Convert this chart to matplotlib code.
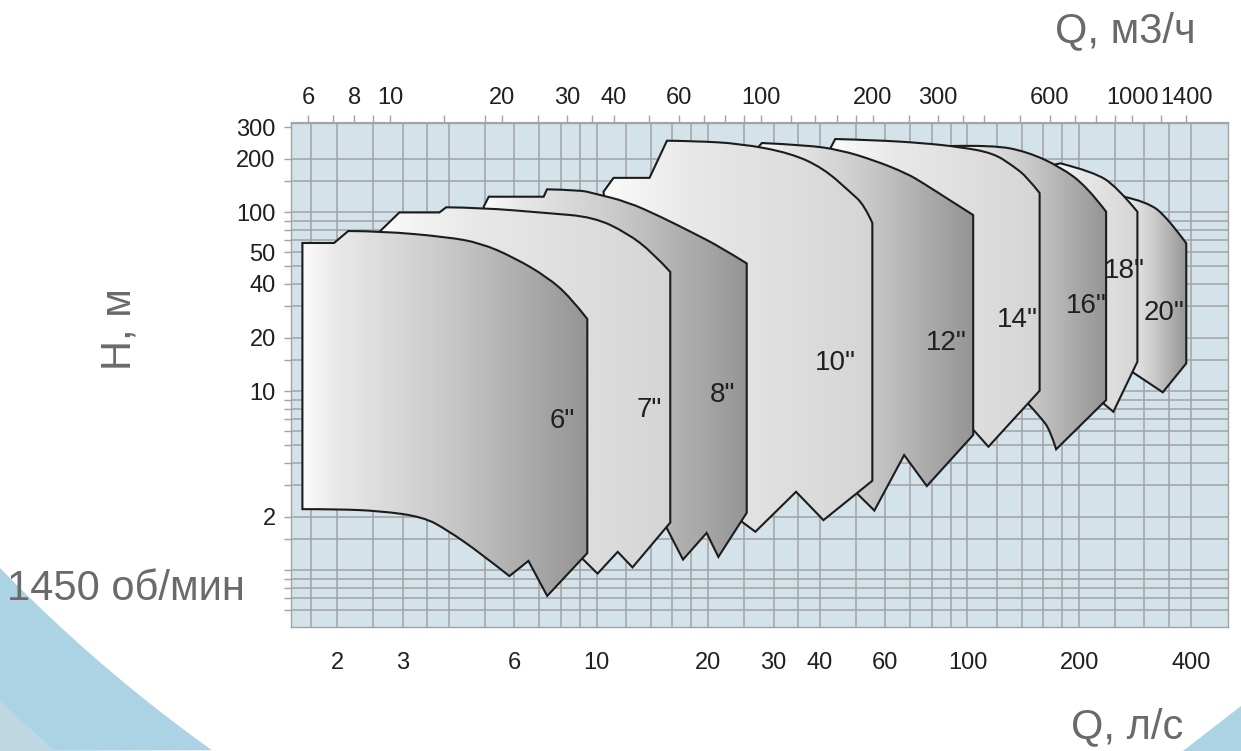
import numpy as np
import matplotlib
matplotlib.use('Agg')
import matplotlib.pyplot as plt
from matplotlib.patches import Polygon, PathPatch
from matplotlib.path import Path
from matplotlib.colors import LinearSegmentedColormap
from matplotlib.ticker import FixedLocator, NullFormatter, NullLocator

plt.rcParams['font.family'] = ['Liberation Sans', 'DejaVu Sans']

# pump sizes, label anchors (Q л/с, H м at text baseline)
sizes = ['6"', '7"', '8"', '10"', '12"', '14"', '16"', '18"', '20"']
label_q = [8.08, 13.9, 21.9, 44.0, 87.5, 136.6, 209.0, 264.5, 339.0]
label_h = [6.25, 7.22, 8.76, 13.2, 17.0, 23.0, 27.3, 42.8, 25.0]

# working fields, Q in л/с and H in м (outline read clockwise)
q6 = [1.61, 1.96, 2.14, 2.61, 3.96, 4.86, 5.96, 7.36, 8.49, 9.44, 9.44, 7.36, 6.55, 5.82, 4.86, 3.96, 3.41, 2.61, 1.98, 1.61]
h6 = [67.5, 67.5, 78.7, 78.7, 72.9, 67.5, 56.3, 43.6, 33.7, 25.4, 1.25, 0.72, 1.13, 0.93, 1.25, 1.68, 1.99, 2.15, 2.2, 2.2]

q7 = [2.61, 2.94, 3.77, 3.93, 4.86, 7.35, 9.81, 12.1, 14.2, 15.8, 15.8, 12.5, 11.4, 10.06, 9.13, 7.05, 2.69]
h7 = [78.7, 100, 100, 106.8, 106.4, 99.2, 94.3, 76.7, 59.3, 46.5, 1.85, 1.04, 1.27, 0.96, 1.17, 1.48, 32.4]

q8 = [4.96, 5.12, 7.2, 7.35, 9.04, 9.81, 12.1, 14.9, 18.3, 21.5, 25.4, 25.4, 21.3, 19.8, 17.1, 15.4, 13.95, 5.17]
h8 = [107.6, 122.4, 122.4, 134.6, 133.4, 127.8, 114.8, 94.6, 76.4, 64.3, 51.9, 2.1, 1.19, 1.62, 1.15, 1.75, 1.91, 54.2]

q10 = [10.44, 11.11, 13.89, 15.48, 18.2, 24.4, 33.3, 40.8, 48.3, 52.7, 55.4, 55.4, 40.9, 34.5, 26.8, 24.65, 22.9, 10.9]
h10 = [130.5, 156, 156, 251.6, 250.6, 242.7, 214.7, 177, 130, 110, 87.3, 3.17, 1.91, 2.75, 1.645, 1.87, 2.47, 61.7]

q12 = [27.3, 27.9, 36.9, 45.4, 55.8, 68.6, 76.1, 88.0, 103.6, 103.6, 77.7, 67.5, 56.1, 50.3, 45.4, 28.5]
h12 = [231.9, 244.2, 237.9, 223.2, 196.2, 165.3, 145.4, 119.9, 96.7, 5.71, 2.96, 4.41, 2.16, 2.70, 3.64, 117.3]

q14 = [42.8, 44.0, 55.7, 75.9, 95.6, 117.3, 132.8, 144.8, 156.5, 156.5, 113.9, 103.8, 95.6, 45.4]
h14 = [230.5, 257.1, 253.8, 244.2, 231.9, 214.7, 181.6, 157.6, 128.3, 10.09, 4.91, 6.09, 6.92, 117.3]

q16 = [89.8, 117.3, 144.8, 177.8, 210.2, 236.5, 236.5, 173.4, 167.1, 157.0, 146.0, 138.7, 95.6]
h16 = [234.9, 237.9, 218.3, 180.0, 139.2, 100.9, 8.95, 4.75, 6.09, 7.22, 8.50, 11.58, 117.3]

q18 = [172.3, 177.8, 218.6, 252.7, 287.2, 287.2, 247.4, 233.6, 214.1, 177.8]
h18 = [185.2, 188.1, 168.8, 139.2, 100.9, 14.66, 7.70, 8.50, 11.58, 117.3]

q20 = [262.8, 304.5, 344.6, 389.0, 389.0, 336.2, 280.2, 267.8, 264.4]
h20 = [122.7, 114.8, 94.6, 67.2, 14.35, 9.89, 12.72, 14.04, 103.1]

# outline vertices that lie on a rounded edge (the rest are corners)
smooth_idx = [
    [3, 4, 5, 6, 7, 8, 14, 15, 16, 17, 18],
    [4, 5, 6, 7, 8],
    [4, 5, 6, 7, 8, 9],
    [4, 5, 6, 7, 8, 9],
    [2, 3, 4, 5, 6, 7],
    [2, 3, 4, 5, 6, 7],
    [1, 2, 3, 4, 8, 9],
    [2, 3],
    [1, 2],
]

# axes ticks and grid
q_ticks = [2, 3, 6, 10, 20, 30, 40, 60, 100, 200, 400]
m3h_ticks = [6, 8, 10, 20, 30, 40, 60, 100, 200, 300, 600, 1000, 1400]
m3h_minor = [7, 9, 14, 18, 25, 35, 50, 70, 80, 90, 120, 140, 160, 180, 250, 350,
             400, 500, 700, 800, 900, 1200]
h_ticks = [2, 10, 20, 40, 50, 100, 200, 300]
q_grid = [1.7, 2, 2.5, 3, 3.5, 4, 5, 6, 7, 8, 9, 10, 12, 14, 16, 18, 20, 25, 30, 35,
          40, 50, 60, 70, 80, 90, 100, 120, 140, 160, 180, 200, 250, 300, 350, 400]
h_grid = [0.6, 0.7, 0.8, 0.9, 1, 1.5, 2, 3, 4, 5, 6, 7, 8, 9, 10, 15, 20, 30, 40, 50,
          60, 70, 80, 90, 100, 150, 200]

W, H = 1241, 751
GRAY = '#a3a3a3'
TXT = '#231f20'
TITLE = '#6a6a6a'


def field_path(q, h, smooth):
    """Closed outline; runs of smooth vertices become quadratic curves (log space)."""
    p = np.log10(np.column_stack([q, h]))
    n = len(p)
    verts, codes = [p[0]], [Path.MOVETO]
    i = 1
    while i <= n:
        if (i % n) in smooth:
            run = []
            while (i % n) in smooth:
                run.append(p[i % n])
                i += 1
            end = p[i % n]
            for k, c in enumerate(run):
                on = (c + run[k + 1]) / 2 if k + 1 < len(run) else end
                verts += [c, on]
                codes += [Path.CURVE3, Path.CURVE3]
        else:
            verts.append(p[i % n])
            codes.append(Path.LINETO)
        i += 1
    verts.append(p[0])
    codes.append(Path.CLOSEPOLY)
    return Path(10 ** np.array(verts), codes)


def main():
    fig = plt.figure(figsize=(W / 100, H / 100), dpi=100)

    # blue decorations in the corners (pixel coordinates)
    bg = fig.add_axes([0, 0, 1, 1], zorder=-5)
    bg.set_xlim(0, W)
    bg.set_ylim(H, 0)
    bg.axis('off')
    ang = np.radians(np.linspace(125.5, 135.9, 60))
    arc = np.column_stack([1111 + 1548 * np.cos(ang), -510 + 1548 * np.sin(ang)])
    bg.add_patch(Polygon(np.vstack([arc, [[0, H]]]), closed=True, fc='#abd3e3', ec='none'))
    bg.add_patch(Polygon([[0, 701], [55, H], [0, H]], closed=True, fc='#bdd8e3', ec='none'))
    bg.add_patch(Polygon([[1183, H], [W, 706], [W, H]], closed=True, fc='#abd3e3', ec='none'))

    ax = fig.add_axes([291 / W, 1 - 627 / H, 937 / W, 504.5 / H])
    ax.set_xscale('log')
    ax.set_yscale('log')
    xlim, ylim = (1.5, 504), (0.483, 318)
    ax.set_xlim(*xlim)
    ax.set_ylim(*ylim)
    ax.set_facecolor('#d3e3e9')
    for s in ax.spines.values():
        s.set_color(GRAY)
        s.set_linewidth(1.0)

    ax.vlines(q_grid, ylim[0], ylim[1], color=GRAY, lw=1.1, zorder=1)
    ax.hlines(h_grid, xlim[0], xlim[1], color=GRAY, lw=1.1, zorder=1)

    # bottom axis, л/с
    ax.xaxis.set_ticks_position('bottom')
    ax.set_xticks(q_ticks, labels=[str(v) for v in q_ticks])
    ax.xaxis.set_minor_locator(NullLocator())
    ax.tick_params(axis='x', length=0, pad=18, labelsize=17, labelcolor=TXT)

    # left axis, м
    ax.yaxis.set_ticks_position('left')
    ax.set_yticks(h_ticks, labels=[str(v) for v in h_ticks])
    ax.yaxis.set_minor_locator(FixedLocator(h_grid))
    ax.yaxis.set_minor_formatter(NullFormatter())
    ax.tick_params(axis='y', which='both', direction='out', length=5, width=1,
                   color=GRAY, pad=6, labelsize=17, labelcolor=TXT)
    # "50" sits just above its tick, as in the original sheet
    for tick, v in zip(ax.yaxis.get_major_ticks(), h_ticks):
        if v == 50:
            tick.label1.set_verticalalignment('bottom')

    # top axis, м3/ч
    sec = ax.secondary_xaxis('top', functions=(lambda q: q * 3.6, lambda m: m / 3.6))
    sec.set_xticks(m3h_ticks, labels=[str(v) for v in m3h_ticks])
    sec.xaxis.set_minor_locator(FixedLocator(m3h_minor))
    sec.xaxis.set_minor_formatter(NullFormatter())
    sec.tick_params(which='both', direction='out', length=5, width=1, color=GRAY,
                    pad=5, labelsize=17, labelcolor=TXT)
    sec.spines['top'].set_color(GRAY)

    dark = LinearSegmentedColormap.from_list(
        'dark', [(0, '#fcfcfc'), (0.12, '#e9e9e9'), (0.5, '#cacaca'), (1, '#959595')])
    light = LinearSegmentedColormap.from_list(
        'light', [(0, '#fbfbfb'), (0.3, '#e9e9e9'), (1, '#d5d5d5')])
    grad = np.linspace(0, 1, 256).reshape(1, -1)

    fields = [(q6, h6), (q7, h7), (q8, h8), (q10, h10), (q12, h12),
              (q14, h14), (q16, h16), (q18, h18), (q20, h20)]
    to_axes = ax.transData + ax.transAxes.inverted()

    # draw the biggest pump first, the 6" ends up in front
    for i in reversed(range(len(fields))):
        q, h = fields[i]
        z = 10 + 2 * (len(fields) - i)
        outline = PathPatch(field_path(q, h, smooth_idx[i]), fill=False,
                            ec='#1c1c1c', lw=1.5, joinstyle='miter', zorder=z + 1)
        ax.add_patch(outline)
        x0 = to_axes.transform((min(q), 1))[0]
        x1 = to_axes.transform((max(q), 1))[0]
        im = ax.imshow(grad, cmap=dark if i % 2 == 0 else light, extent=(x0, x1, 0, 1),
                       transform=ax.transAxes, aspect='auto', interpolation='bilinear',
                       zorder=z)
        im.set_clip_path(outline)

    for name, lq, lh in zip(sizes, label_q, label_h):
        ax.text(lq, lh, name, ha='center', va='baseline', fontsize=20, color=TXT, zorder=40)

    ax.set_xlim(*xlim)
    ax.set_ylim(*ylim)

    fig.text(1125 / W, 1 - 42 / H, 'Q, м3/ч', ha='center', va='baseline', fontsize=30, color=TITLE)
    fig.text(1127 / W, 1 - 738 / H, 'Q, л/с', ha='center', va='baseline', fontsize=30, color=TITLE)
    fig.text(120 / W, 1 - 329 / H, 'H, м', ha='center', va='center', rotation=90,
             fontsize=30, color=TITLE)
    fig.text(245 / W, 1 - 600 / H, '1450 об/мин', ha='right', va='baseline', fontsize=30,
             color=TITLE)

    fig.savefig('out.png', dpi=100, facecolor='white')


if __name__ == '__main__':
    main()
